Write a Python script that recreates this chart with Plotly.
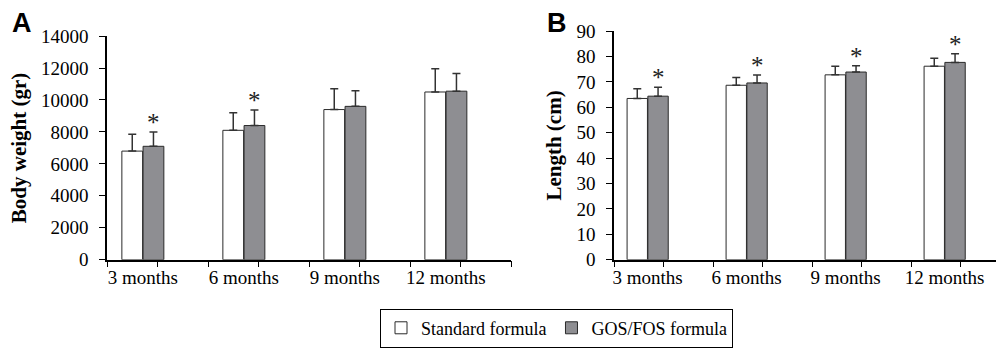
import plotly.graph_objects as go

categories = ["3 months", "6 months", "9 months", "12 months"]
series_names = ["Standard formula", "GOS/FOS formula"]

weight_standard = [6800, 8100, 9400, 10500]
weight_standard_sd = [1050, 1100, 1300, 1450]
weight_gosfos = [7100, 8400, 9600, 10550]
weight_gosfos_sd = [900, 980, 980, 1100]
weight_sig = [True, True, False, False]

length_standard = [63.5, 68.7, 72.8, 76.2]
length_standard_sd = [3.8, 3.1, 3.4, 3.1]
length_gosfos = [64.4, 69.6, 73.9, 77.7]
length_gosfos_sd = [3.5, 3.1, 2.5, 3.4]
length_sig = [True, True, True, True]

weight_ticks = [0, 2000, 4000, 6000, 8000, 10000, 12000, 14000]
length_ticks = [0, 10, 20, 30, 40, 50, 60, 70, 80, 90]

# ---- layout constants ----
W, H = 996, 348
SERIF = "Liberation Serif"
WHITE_FILL = "#ffffff"
GRAY_FILL = "#8e8e92"
EDGE = "#2a2a2a"
GROUP_OFF_A = 0.355
GROUP_OFF_B = 0.34
BAR_HALF = 0.105

fig = go.Figure()

def add_panel(xref, yref, vals1, sd1, vals2, sd2, off, show_legend):
    xs = [i + off for i in range(len(categories))]
    for name, vals, sd, fill in [
        (series_names[0], vals1, sd1, WHITE_FILL),
        (series_names[1], vals2, sd2, GRAY_FILL),
    ]:
        fig.add_trace(go.Bar(
            x=xs, y=vals, name=name, xaxis=xref, yaxis=yref,
            marker=dict(color=fill, line=dict(color=EDGE, width=1)),
            error_y=dict(type="data", array=sd, arrayminus=[0] * len(sd),
                         symmetric=False, color="#333333", thickness=1.5, width=4),
            showlegend=show_legend, legendgroup=name,
        ))
    return xs

xsA = add_panel("x", "y", weight_standard, weight_standard_sd,
                weight_gosfos, weight_gosfos_sd, GROUP_OFF_A, True)
xsB = add_panel("x2", "y2", length_standard, length_standard_sd,
                length_gosfos, length_gosfos_sd, GROUP_OFF_B, False)

star_font = dict(family=SERIF, size=25, color="#222222")
annotations = []
for i, s in enumerate(weight_sig):
    if s:
        annotations.append(dict(x=xsA[i] + BAR_HALF, y=weight_gosfos[i] + weight_gosfos_sd[i],
                                xref="x", yref="y", text="*", showarrow=False,
                                yanchor="bottom", yshift=-6, font=star_font))
for i, s in enumerate(length_sig):
    if s:
        annotations.append(dict(x=xsB[i] + BAR_HALF, y=length_gosfos[i] + length_gosfos_sd[i],
                                xref="x2", yref="y2", text="*", showarrow=False,
                                yanchor="bottom", yshift=-6, font=star_font))

# panel letters
annotations.append(dict(x=22 / W, y=1 - 23 / H, xref="paper", yref="paper", text="<b>A</b>",
                        showarrow=False, xanchor="center", yanchor="middle",
                        font=dict(family="Liberation Sans", size=27, color="black")))
annotations.append(dict(x=557 / W, y=1 - 23 / H, xref="paper", yref="paper", text="<b>B</b>",
                        showarrow=False, xanchor="center", yanchor="middle",
                        font=dict(family="Liberation Sans", size=27, color="black")))

tick_font = dict(family=SERIF, size=19, color="black")
title_font = dict(family=SERIF, size=21, color="black")

xA_end = 4.0
xB_end = (W - 614) / 99.0
minorA = [k * 0.5 for k in range(0, 9)]
minorB = [k * 0.5 for k in range(0, 8) if k * 0.5 <= xB_end]

common_x = dict(showline=True, linecolor="black", linewidth=1.5, ticks="", ticklen=0,
                showgrid=False, zeroline=False, tickfont=tick_font,
                ticklabelstandoff=0, automargin=False)
common_y = dict(showline=True, linecolor="black", linewidth=1.5, ticks="outside",
                ticklen=6, tickwidth=1.2, tickcolor="black", showgrid=False,
                zeroline=False, tickfont=tick_font, ticklabelstandoff=7,
                automargin=False)

fig.update_layout(
    width=W, height=H,
    margin=dict(l=0, r=0, t=0, b=0),
    paper_bgcolor="white", plot_bgcolor="white",
    barmode="group", bargap=0.58, bargroupgap=0.02,
    font=dict(family=SERIF, size=18, color="black"),
    xaxis=dict(domain=[107 / W, 511 / W], range=[0, xA_end], anchor="y",
               tickvals=xsA, ticktext=categories,
               minor=dict(tickvals=minorA, ticks="outside", ticklen=6,
                          tickcolor="black", tickwidth=1.2, showgrid=False),
               **common_x),
    yaxis=dict(domain=[(H - 264.3) / H, (H - 36.7) / H], range=[0, 14000],
               anchor="x", tickvals=weight_ticks, ticktext=[str(v) for v in weight_ticks],
               title=dict(text="<b>Body weight (gr)</b>", font=title_font, standoff=9),
               **common_y),
    xaxis2=dict(domain=[614 / W, 1.0], range=[0, xB_end], anchor="y2",
                tickvals=xsB, ticktext=categories,
                minor=dict(tickvals=minorB, ticks="outside", ticklen=6,
                           tickcolor="black", tickwidth=1.2, showgrid=False),
                **common_x),
    yaxis2=dict(domain=[(H - 264.3) / H, (H - 31.7) / H], range=[0, 90],
                anchor="x2", tickvals=length_ticks, ticktext=[str(v) for v in length_ticks],
                title=dict(text="<b>Length (cm)</b>", font=title_font, standoff=9),
                **common_y),
    legend=dict(orientation="h", x=380 / W, y=1 - 314 / H, xanchor="left", yanchor="top",
                bordercolor="black", borderwidth=1, bgcolor="white",
                font=dict(family=SERIF, size=18, color="black"),
                itemwidth=30, traceorder="normal"),
    annotations=annotations,
)

fig.write_html("out.html", config={"displayModeBar": False},
               post_script="document.body.style.margin='0';document.body.style.padding='0';")
